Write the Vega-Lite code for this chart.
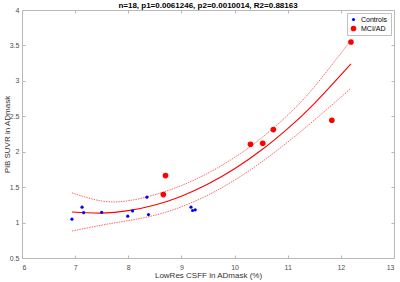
{
  "$schema": "https://vega.github.io/schema/vega-lite/v6.json",
  "width": 372,
  "height": 248,
  "autosize": {"type": "none"},
  "padding": {"left": 22, "top": 10, "right": 6, "bottom": 24},
  "background": "white",
  "title": {
    "text": "n=18, p1=0.0061246, p2=0.0010014, R2=0.88163",
    "fontSize": 8,
    "font": "Liberation Sans",
    "fontWeight": "bold",
    "color": "#000000",
    "offset": 2,
    "dy": 6,
    "anchor": "middle"
  },
  "config": {
    "view": {"stroke": null},
    "axis": {
      "domainColor": "#b8b8b8",
      "tickColor": "#b8b8b8",
      "labelColor": "#4d4d4d",
      "titleColor": "#333333",
      "labelFont": "Liberation Sans",
      "titleFont": "Liberation Sans",
      "labelFontSize": 7,
      "titleFontSize": 8,
      "titleFontWeight": "normal",
      "grid": false,
      "tickSize": -3
    }
  },
  "datasets": {
    "curve": [
      {"x": 6.94, "fit": 1.149, "lo": 0.88, "hi": 1.42},
      {"x": 7.5, "fit": 1.134, "lo": 0.964, "hi": 1.304},
      {"x": 8.0, "fit": 1.168, "lo": 1.028, "hi": 1.308},
      {"x": 8.5, "fit": 1.248, "lo": 1.103, "hi": 1.393},
      {"x": 9.0, "fit": 1.373, "lo": 1.223, "hi": 1.523},
      {"x": 9.5, "fit": 1.543, "lo": 1.388, "hi": 1.698},
      {"x": 10.0, "fit": 1.759, "lo": 1.599, "hi": 1.919},
      {"x": 10.5, "fit": 2.02, "lo": 1.85, "hi": 2.19},
      {"x": 11.0, "fit": 2.327, "lo": 2.137, "hi": 2.517},
      {"x": 11.5, "fit": 2.68, "lo": 2.445, "hi": 2.915},
      {"x": 12.19, "fit": 3.24, "lo": 2.895, "hi": 3.575}
    ],
    "points": [
      {"x": 6.94, "y": 1.048, "group": "Controls"},
      {"x": 7.13, "y": 1.217, "group": "Controls"},
      {"x": 7.16, "y": 1.14, "group": "Controls"},
      {"x": 7.50, "y": 1.146, "group": "Controls"},
      {"x": 7.99, "y": 1.09, "group": "Controls"},
      {"x": 8.08, "y": 1.165, "group": "Controls"},
      {"x": 8.35, "y": 1.358, "group": "Controls"},
      {"x": 8.38, "y": 1.113, "group": "Controls"},
      {"x": 9.18, "y": 1.217, "group": "Controls"},
      {"x": 9.21, "y": 1.17, "group": "Controls"},
      {"x": 9.26, "y": 1.18, "group": "Controls"},
      {"x": 8.70, "y": 1.663, "group": "MCI/AD"},
      {"x": 8.66, "y": 1.395, "group": "MCI/AD"},
      {"x": 10.30, "y": 2.105, "group": "MCI/AD"},
      {"x": 10.53, "y": 2.12, "group": "MCI/AD"},
      {"x": 10.73, "y": 2.312, "group": "MCI/AD"},
      {"x": 11.83, "y": 2.444, "group": "MCI/AD"},
      {"x": 12.19, "y": 3.549, "group": "MCI/AD"}
    ]
  },
  "resolve": {"axis": {"x": "independent", "y": "independent"}},
  "layer": [
    {
      "data": {"name": "curve"},
      "mark": {"type": "line", "color": "#ff0000", "strokeWidth": 1, "strokeDash": [1.5, 1], "opacity": 0.6, "interpolate": "natural"},
      "encoding": {
        "x": {"field": "x", "type": "quantitative", "scale": {"domain": [6, 13], "nice": false, "zero": false},
          "axis": {"orient": "bottom", "values": [6, 7, 8, 9, 10, 11, 12, 13], "labelPadding": 8, "title": "LowRes CSFF in ADmask (%)", "titlePadding": 1}},
        "y": {"field": "hi", "type": "quantitative", "scale": {"domain": [0.5, 4], "nice": false, "zero": false},
          "axis": {"orient": "left", "values": [0.5, 1, 1.5, 2, 2.5, 3, 3.5, 4], "format": ".1~f", "labelPadding": 6, "title": "PiB SUVR in ADmask", "titleX": -15, "titleY": 124, "titleAngle": -90, "titleAlign": "center", "titleBaseline": "middle"}}
      }
    },
    {
      "data": {"name": "curve"},
      "mark": {"type": "line", "color": "#ff0000", "strokeWidth": 1, "strokeDash": [1.5, 1], "opacity": 0.6, "interpolate": "natural"},
      "encoding": {
        "x": {"field": "x", "type": "quantitative", "axis": null},
        "y": {"field": "lo", "type": "quantitative", "axis": null}
      }
    },
    {
      "data": {"name": "curve"},
      "mark": {"type": "line", "color": "#ff0000", "strokeWidth": 1.1, "interpolate": "natural"},
      "encoding": {
        "x": {"field": "x", "type": "quantitative", "axis": null},
        "y": {"field": "fit", "type": "quantitative", "axis": null}
      }
    },
    {
      "data": {"name": "points"},
      "mark": {"type": "point", "filled": true, "opacity": 1, "strokeWidth": 0},
      "encoding": {
        "x": {"field": "x", "type": "quantitative",
          "axis": {"orient": "top", "values": [6, 7, 8, 9, 10, 11, 12, 13], "labels": false, "title": null}},
        "y": {"field": "y", "type": "quantitative",
          "axis": {"orient": "right", "values": [0.5, 1, 1.5, 2, 2.5, 3, 3.5, 4], "labels": false, "title": null}},
        "color": {"field": "group", "type": "nominal",
          "scale": {"domain": ["Controls", "MCI/AD"], "range": ["#0000ff", "#ff0000"]},
          "legend": {"title": null, "orient": "top-right", "offset": 3, "fillColor": "white", "strokeColor": "#c0c0c0", "padding": 3, "labelFont": "Liberation Sans", "labelFontSize": 7, "labelColor": "#000000", "rowPadding": 1, "symbolStrokeWidth": 0}},
        "size": {"field": "group", "type": "nominal",
          "scale": {"domain": ["Controls", "MCI/AD"], "range": [10, 32]},
          "legend": null}
      }
    }
  ]
}
